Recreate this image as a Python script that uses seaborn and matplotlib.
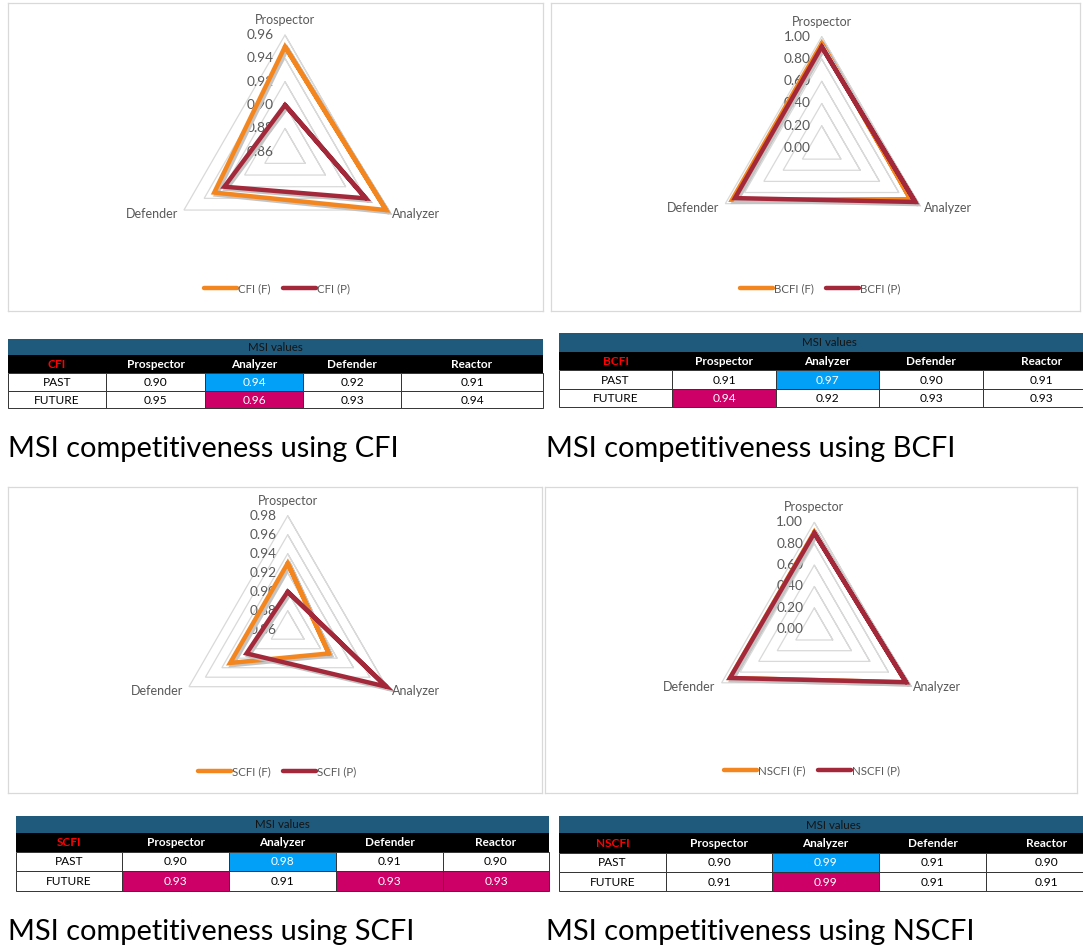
import numpy as np
import pandas as pd
import matplotlib
matplotlib.use("Agg")
import matplotlib.pyplot as plt
import matplotlib.patheffects as pe
from matplotlib.patches import Rectangle
import seaborn as sns

sns.set_theme(style="white")
plt.rcParams["font.family"] = ["Lato", "DejaVu Sans"]

# ---------------- data ----------------
radar_axes = ["Prospector", "Analyzer", "Defender"]
table_cols = ["Prospector", "Analyzer", "Defender", "Reactor"]
row_labels = ["PAST", "FUTURE"]

cfi_past = [0.90, 0.94, 0.92, 0.91]
cfi_future = [0.95, 0.96, 0.93, 0.94]
bcfi_past = [0.91, 0.97, 0.90, 0.91]
bcfi_future = [0.94, 0.92, 0.93, 0.93]
scfi_past = [0.90, 0.98, 0.91, 0.90]
scfi_future = [0.93, 0.91, 0.93, 0.93]
nscfi_past = [0.90, 0.99, 0.91, 0.90]
nscfi_future = [0.91, 0.99, 0.91, 0.91]

cfi_ticks = [0.86, 0.88, 0.90, 0.92, 0.94, 0.96]
bcfi_ticks = [0.00, 0.20, 0.40, 0.60, 0.80, 1.00]
scfi_ticks = [0.86, 0.88, 0.90, 0.92, 0.94, 0.96, 0.98]
nscfi_ticks = [0.00, 0.20, 0.40, 0.60, 0.80, 1.00]

captions = ["MSI competitiveness using CFI", "MSI competitiveness using BCFI",
            "MSI competitiveness using SCFI", "MSI competitiveness using NSCFI"]

# ---------------- style / layout ----------------
W, H = 1083, 949
ORANGE = "#F4861F"
RED = "#A3283A"
GRID = "#D9D9D9"
TXT = "#595959"
TITLE_BAR = "#1F5A7C"
BLUE_HL = "#03A0F8"
MAG_HL = "#CC0066"

fig = plt.figure(figsize=(W / 100, H / 100), dpi=100)
fig.patch.set_facecolor("white")

angles = np.deg2rad([90, -30, 210])

panels = [
    dict(name="CFI", past=cfi_past, fut=cfi_future, ticks=cfi_ticks,
         box=(8, 3, 543, 311), c=(285, 151.7), R=116.7, leg=(277, 289),
         cols=[8, 106, 205, 303, 401, 543], rows=[338.5, 355, 372.7, 391, 408.3],
         cap=(8, 456.5)),
    dict(name="BCFI", past=bcfi_past, fut=bcfi_future, ticks=bcfi_ticks,
         box=(551, 3, 1080, 311), c=(821.7, 148), R=111.3, leg=(820, 289),
         cols=[559, 672, 776, 879, 983, 1100], rows=[333.3, 351.7, 370, 389, 407.3],
         cap=(546, 456.5)),
    dict(name="SCFI", past=scfi_past, fut=scfi_future, ticks=scfi_ticks,
         box=(8, 487, 542, 793), c=(287.7, 629.7), R=114, leg=(277, 772),
         cols=[16, 122, 229, 336, 443, 549], rows=[816, 832.7, 851.7, 871, 890.7],
         cap=(8, 940)),
    dict(name="NSCFI", past=nscfi_past, fut=nscfi_future, ticks=nscfi_ticks,
         box=(545, 487, 1077, 793), c=(814.3, 629.3), R=107, leg=(812, 771),
         cols=[559, 666, 772, 879, 986, 1107], rows=[816, 833.3, 852.7, 872, 891],
         cap=(546, 940)),
]


def draw_radar(p):
    x0, y0, x1, y1 = p["box"]
    cx, cy = p["c"]
    R = p["R"]
    ax = fig.add_axes([x0 / W, 1 - y1 / H, (x1 - x0) / W, (y1 - y0) / H])
    ax.set_facecolor("white")
    ax.set_xlim((x0 - cx) / R, (x1 - cx) / R)
    ax.set_ylim((cy - y1) / R, (cy - y0) / R)
    ticks = p["ticks"]
    vmin, vmax = ticks[0], ticks[-1]

    # triangular gridlines
    for t in ticks[1:]:
        r = (t - vmin) / (vmax - vmin)
        xs = list(r * np.cos(angles)) + [r * np.cos(angles[0]), r * np.cos(angles[1])]
        ys = list(r * np.sin(angles)) + [r * np.sin(angles[0]), r * np.sin(angles[1])]
        ax.plot(xs, ys, color=GRID, lw=0.9, zorder=1, solid_joinstyle="miter")
    # value labels
    for t in ticks:
        r = (t - vmin) / (vmax - vmin)
        ax.annotate(f"{t:.2f}", (0, r), xytext=(-11, 0), textcoords="offset pixels",
                    ha="right", va="center", fontsize=9.8, color=TXT, zorder=2)

    # series
    rows = []
    for lab, vals in [(f"{p['name']} (F)", p["fut"]), (f"{p['name']} (P)", p["past"])]:
        v = np.array(vals[:3])
        r = (v - vmin) / (vmax - vmin)
        for k in [0, 1, 2, 0, 1]:
            rows.append(dict(series=lab, x=r[k] * np.cos(angles[k]), y=r[k] * np.sin(angles[k])))
    df = pd.DataFrame(rows)
    n_before = len(ax.lines)
    sns.lineplot(data=df, x="x", y="y", hue="series", sort=False, estimator=None,
                 palette=[ORANGE, RED], lw=3.2, ax=ax, zorder=3)
    for ln in ax.lines[n_before:]:
        ln.set_solid_joinstyle("miter")
        ln.set_path_effects([pe.SimpleLineShadow(offset=(1.5, -1.5), shadow_color="#C4C4C4", alpha=1.0),
                             pe.Normal()])

    # category labels
    ax.annotate(radar_axes[0], (0, 1), xytext=(0, 9), textcoords="offset pixels",
                ha="center", va="bottom", fontsize=9, color=TXT)
    ax.annotate(radar_axes[1], (np.cos(angles[1]), np.sin(angles[1])), xytext=(6, -4),
                textcoords="offset pixels", ha="left", va="center", fontsize=9, color=TXT)
    ax.annotate(radar_axes[2], (np.cos(angles[2]), np.sin(angles[2])), xytext=(-6, -4),
                textcoords="offset pixels", ha="right", va="center", fontsize=9, color=TXT)

    handles, labels = ax.get_legend_handles_labels()
    ax.legend(handles, labels, loc="center", bbox_to_anchor=(p["leg"][0] / W, 1 - p["leg"][1] / H),
              bbox_transform=fig.transFigure, ncol=2, frameon=False, fontsize=8.3,
              handlelength=2.9, handletextpad=0.1, columnspacing=1.0, labelcolor=TXT)
    for lh in ax.get_legend().get_lines():
        lh.set_linewidth(3.2)
        lh.set_path_effects([])

    ax.set_xticks([])
    ax.set_yticks([])
    ax.set_xlabel("")
    ax.set_ylabel("")
    for s in ax.spines.values():
        s.set_color(GRID)
        s.set_linewidth(0.9)


for p in panels:
    draw_radar(p)

# overlay axes in pixel coordinates for the tables and captions
ov = fig.add_axes([0, 0, 1, 1])
ov.set_xlim(0, W)
ov.set_ylim(H, 0)
ov.axis("off")
ov.patch.set_alpha(0)


def draw_table(p):
    ce = p["cols"]
    re = p["rows"]
    xl, xr = ce[0], ce[-1]
    # title bar
    ov.add_patch(Rectangle((xl, re[0]), xr - xl, re[1] - re[0], fc=TITLE_BAR, ec="none"))
    ov.text((xl + xr) / 2, (re[0] + re[1]) / 2 + 0.5, "MSI values", ha="center", va="center",
            fontsize=8.3, color="#141414")
    # header row
    ov.add_patch(Rectangle((xl, re[1]), xr - xl, re[2] - re[1], fc="black", ec="none"))
    headers = [p["name"]] + table_cols
    for j, h in enumerate(headers):
        ov.text((ce[j] + ce[j + 1]) / 2, (re[1] + re[2]) / 2 + 0.5, h, ha="center", va="center",
                fontsize=8.5, fontweight="bold", color="#FF0000" if j == 0 else "white")
    # data rows
    for i, vals in enumerate([p["past"], p["fut"]]):
        hl = BLUE_HL if i == 0 else MAG_HL
        mx = max(vals)
        ya, yb = re[i + 2], re[i + 3]
        cells = [row_labels[i]] + [f"{v:.2f}" for v in vals]
        for j, c in enumerate(cells):
            is_hl = j > 0 and vals[j - 1] == mx
            ov.add_patch(Rectangle((ce[j], ya), ce[j + 1] - ce[j], yb - ya,
                                   fc=hl if is_hl else "white", ec="#333333", lw=0.7))
            ov.text((ce[j] + ce[j + 1]) / 2, (ya + yb) / 2 + 0.5, c, ha="center", va="center",
                    fontsize=8.6, color="white" if is_hl else "black")


for p in panels:
    draw_table(p)

# captions, size fitted to the reference width of the first caption
renderer = fig.canvas.get_renderer()
probe = ov.text(0, 0, captions[0], fontsize=20)
fs = 20 * 392 / probe.get_window_extent(renderer=renderer).width
probe.remove()
for p, cap in zip(panels, captions):
    ov.text(p["cap"][0], p["cap"][1], cap, ha="left", va="baseline", fontsize=fs, color="black")

fig.savefig("out.png", dpi=100)
